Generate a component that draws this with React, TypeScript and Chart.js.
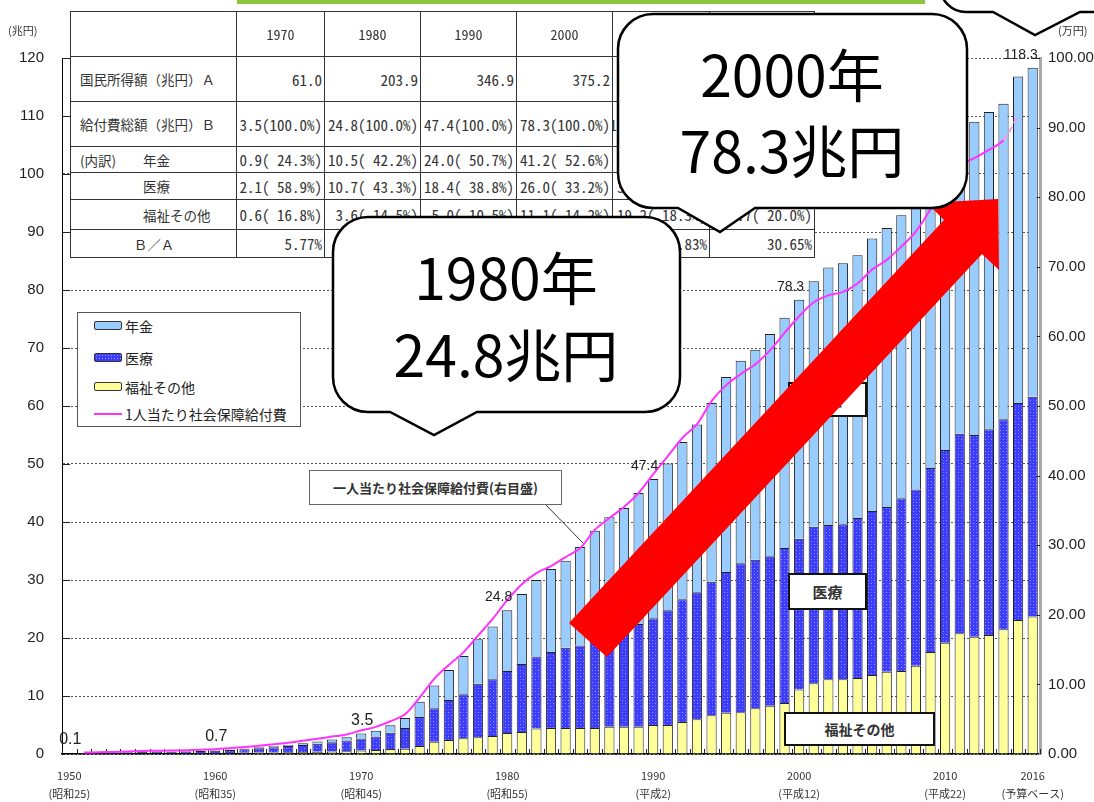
import { useEffect, useRef } from 'react';
import { Chart, registerables } from 'chart.js';

Chart.register(...registerables);

// Fiscal years shown on the category axis
const years = [
  1950, 1951, 1952, 1953, 1954, 1955, 1956, 1957, 1958, 1959,
  1960, 1961, 1962, 1963, 1964, 1965, 1966, 1967, 1968, 1969,
  1970, 1971, 1972, 1973, 1974, 1975, 1976, 1977, 1978, 1979,
  1980, 1981, 1982, 1983, 1984, 1985, 1986, 1987, 1988, 1989,
  1990, 1991, 1992, 1993, 1994, 1995, 1996, 1997, 1998, 1999,
  2000, 2001, 2002, 2003, 2004, 2005, 2006, 2007, 2008, 2009,
  2010, 2011, 2012, 2013, 2014, 2015, 2016,
];

// 年金 (兆円)
const pension = [
  0.00, 0.00, 0.01, 0.02, 0.03, 0.04, 0.05, 0.05, 0.06, 0.07,
  0.08, 0.10, 0.12, 0.15, 0.19, 0.24, 0.30, 0.37, 0.45, 0.55,
  0.86, 1.03, 1.27, 1.7, 2.6, 3.9, 5.2, 6.6, 7.7, 9.1,
  10.5, 12.1, 13.2, 14.3, 15.0, 17.0, 18.9, 20.4, 21.1, 22.6,
  24.0, 25.3, 27.1, 28.9, 30.8, 33.6, 34.9, 36.2, 38.3, 39.7,
  41.2, 42.3, 44.4, 45.0, 45.3, 47.0, 48.1, 48.8, 50.1, 50.5,
  52.8, 53.0, 54.0, 54.7, 54.4, 56.3, 56.7,
];

// 医療 (兆円)
const medical = [
  0.06, 0.09, 0.13, 0.16, 0.19, 0.23, 0.24, 0.26, 0.30, 0.34,
  0.40, 0.50, 0.63, 0.77, 0.92, 1.07, 1.24, 1.41, 1.63, 1.88,
  2.07, 2.33, 2.79, 3.6, 5.0, 5.8, 6.9, 7.6, 9.2, 9.8,
  10.7, 11.7, 12.4, 13.1, 13.8, 14.2, 15.1, 15.7, 16.6, 17.7,
  18.4, 19.8, 21.2, 21.9, 23.0, 24.3, 25.7, 25.6, 25.8, 26.7,
  26.0, 27.0, 26.6, 26.7, 27.6, 28.3, 28.4, 29.8, 30.4, 31.7,
  33.2, 34.4, 34.8, 35.5, 36.2, 37.4, 37.9,
];

// 福祉その他 (兆円)
const welfare = [
  0.07, 0.07, 0.08, 0.09, 0.10, 0.12, 0.12, 0.13, 0.14, 0.16,
  0.18, 0.19, 0.21, 0.24, 0.26, 0.29, 0.33, 0.37, 0.41, 0.46,
  0.59, 0.67, 0.88, 0.9, 1.4, 2.1, 2.4, 2.7, 2.9, 3.1,
  3.6, 3.8, 4.4, 4.5, 4.5, 4.5, 4.5, 4.7, 4.7, 4.7,
  5.0, 5.0, 5.5, 6.0, 6.7, 7.1, 7.2, 7.9, 8.3, 8.8,
  11.1, 12.2, 12.9, 12.9, 13.1, 13.6, 14.2, 14.3, 15.2, 17.6,
  19.2, 20.8, 20.2, 20.5, 21.5, 23.1, 23.7,
];

// 1人当たり社会保障給付費 (万円, right axis)
const perCapita = [
  null, 0.2, 0.25, 0.3, 0.36, 0.43, 0.46, 0.49, 0.55, 0.62,
  0.70, 0.84, 1.0, 1.2, 1.4, 1.6, 1.9, 2.2, 2.5, 2.8,
  3.4, 3.9, 4.7, 5.7, 8.1, 10.8, 12.8, 14.6, 17.0, 19.4,
  22.1, 24.4, 26.0, 27.0, 28.3, 29.6, 32.2, 33.9, 35.5, 37.5,
  40.2, 42.8, 45.4, 47.4, 50.7, 53.0, 54.6, 56.0, 58.0, 60.5,
  62.9, 64.9, 65.9, 66.4, 67.6, 69.6, 71.0, 72.9, 75.1, 78.3,
  82.3, 84.6, 85.6, 86.8, 88.2, 91.8, null,
];

// Years labelled on the x axis, with their era names
const axisYears = [1950, 1960, 1970, 1980, 1990, 2000, 2010, 2016];
const eraNames = ['(昭和25)', '(昭和35)', '(昭和45)', '(昭和55)', '(平成2)', '(平成12)', '(平成22)', '(予算ベース)'];

// Years whose total is printed above the bar
const totalLabelYears = [1950, 1960, 1970, 1980, 1990, 2000, 2016];

// Summary table
const tableYears = ['1970', '1980', '1990', '2000', '2010', '2016'];
const nationalIncome = ['61.0', '203.9', '346.9', '375.2', '364.9', '386.0'];
const benefitTotal = ['3.5(100.0%)', '24.8(100.0%)', '47.4(100.0%)', '78.3(100.0%)', '105.2(100.0%)', '118.3(100.0%)'];
const pensionRow = ['0.9( 24.3%)', '10.5( 42.2%)', '24.0( 50.7%)', '41.2( 52.6%)', '52.8( 50.2%)', '56.7( 47.9%)'];
const medicalRow = ['2.1( 58.9%)', '10.7( 43.3%)', '18.4( 38.8%)', '26.0( 33.2%)', '33.2( 31.6%)', '37.9( 32.0%)'];
const welfareRow = ['0.6( 16.8%)', '3.6( 14.5%)', '5.0( 10.5%)', '11.1( 14.2%)', '19.2( 18.3%)', '23.7( 20.0%)'];
const ratioRow = ['5.77%', '12.16%', '13.66%', '20.87%', '28.83%', '30.65%'];

const JP = "'Noto Sans CJK JP', sans-serif";
const JP_MONO = "'Noto Sans Mono CJK JP', 'Noto Sans CJK JP', monospace";
const NARROW = "'Liberation Sans Narrow', 'Arial Narrow', 'Liberation Sans', sans-serif";

const totalAt = (i: number) => Math.round((pension[i] + medical[i] + welfare[i]) * 10) / 10;

const decorPlugin = {
  id: 'decor',
  beforeDatasetsDraw(chart: any) {
    const { ctx, chartArea, scales } = chart;
    const { x, y, y1 } = scales;
    ctx.save();
    ctx.strokeStyle = '#222';
    ctx.lineWidth = 1;
    ctx.beginPath();
    for (let v = 10; v <= 120; v += 10) {
      const py = Math.round(y.getPixelForValue(v)) + 0.5;
      ctx.moveTo(chartArea.left, py);
      ctx.lineTo(chartArea.left + 8, py);
    }
    for (let v = 10; v <= 100; v += 10) {
      const py = Math.round(y1.getPixelForValue(v)) + 0.5;
      ctx.moveTo(chartArea.right - 7, py);
      ctx.lineTo(chartArea.right, py);
    }
    const half = (x.getPixelForValue(1) - x.getPixelForValue(0)) / 2;
    for (let i = 0; i <= years.length; i++) {
      const px = Math.round(x.getPixelForValue(i) - half) + 0.5;
      ctx.moveTo(px, chartArea.bottom - 5);
      ctx.lineTo(px, chartArea.bottom);
    }
    ctx.stroke();
    ctx.restore();
  },
  afterDatasetsDraw(chart: any) {
    const { ctx, scales } = chart;
    const { x, y } = scales;
    ctx.save();
    ctx.fillStyle = '#222';
    ctx.textBaseline = 'alphabetic';
    totalLabelYears.forEach((yr) => {
      const i = years.indexOf(yr);
      const total = totalAt(i);
      const px = x.getPixelForValue(i);
      const py = y.getPixelForValue(total);
      if (total < 10) {
        ctx.font = `16px ${NARROW}`;
        ctx.textAlign = 'center';
        ctx.fillText(total.toFixed(1), px + 1, py - 9);
      } else {
        ctx.font = `14px ${NARROW}`;
        ctx.textAlign = 'right';
        ctx.fillText(total.toFixed(1), px + 5, py - 9);
      }
    });
    ctx.restore();
  },
};

const bubblePath = (x0: number, y0: number, x1: number, y1: number, r: number, pl: number, tx: number, ty: number, pr: number) =>
  `M${x0 + r} ${y0} H${x1 - r} A${r} ${r} 0 0 1 ${x1} ${y0 + r} V${y1 - r} A${r} ${r} 0 0 1 ${x1 - r} ${y1} ` +
  `H${pr} L${tx} ${ty} L${pl} ${y1} H${x0 + r} A${r} ${r} 0 0 1 ${x0} ${y1 - r} V${y0 + r} A${r} ${r} 0 0 1 ${x0 + r} ${y0} Z`;

const colX = [71, 237, 325, 421, 517, 613, 710, 815];
const rowY = [12, 57, 102, 147, 173, 200, 230, 258];

function SummaryTable() {
  const rows: { label: any; cells: string[]; header?: boolean }[] = [
    { label: '', cells: tableYears, header: true },
    { label: <span style={{ paddingLeft: 9 }}>国民所得額（兆円）Ａ</span>, cells: nationalIncome },
    { label: <span style={{ paddingLeft: 9 }}>給付費総額（兆円）Ｂ</span>, cells: benefitTotal },
    { label: <><span style={{ paddingLeft: 9 }}>(内訳)</span><span style={{ position: 'absolute', left: 72 }}>年金</span></>, cells: pensionRow },
    { label: <span style={{ position: 'absolute', left: 72 }}>医療</span>, cells: medicalRow },
    { label: <span style={{ position: 'absolute', left: 72 }}>福祉その他</span>, cells: welfareRow },
    { label: <span style={{ position: 'absolute', left: 0, width: 166, textAlign: 'center' }}>Ｂ／Ａ</span>, cells: ratioRow },
  ];
  const cellBase: any = {
    position: 'absolute',
    boxSizing: 'border-box',
    border: '1px solid #333',
    marginLeft: -1,
    marginTop: -1,
    display: 'flex',
    alignItems: 'center',
    background: '#fff',
    color: '#333',
    whiteSpace: 'pre',
    overflow: 'hidden',
  };
  const out: any[] = [];
  rows.forEach((row, r) => {
    const top = rowY[r];
    const h = rowY[r + 1] - top + 1;
    out.push(
      <div key={`l${r}`} style={{ ...cellBase, left: colX[0], top, width: colX[1] - colX[0] + 1, height: h, fontFamily: JP, fontSize: 13.5 }}>
        {row.label}
      </div>,
    );
    row.cells.forEach((c, k) => {
      out.push(
        <div
          key={`c${r}-${k}`}
          style={{
            ...cellBase,
            left: colX[k + 1],
            top,
            width: colX[k + 2] - colX[k + 1] + 1,
            height: h,
            justifyContent: row.header ? 'center' : 'flex-end',
            paddingRight: row.header ? 0 : 2,
            fontFamily: JP_MONO,
            fontSize: row.header ? 14 : 15,
            letterSpacing: 0,
          }}
        >
          {c}
        </div>,
      );
    });
  });
  return <>{out}</>;
}

function Legend() {
  const item = (top: number, swatch: any, text: string) => (
    <div style={{ position: 'absolute', left: 0, top: top - 10, height: 20, width: 224 }}>
      <div style={{ position: 'absolute', left: 16, top: 5, ...swatch }} />
      <div style={{ position: 'absolute', left: 47, top: 0, lineHeight: '20px', fontSize: 14, fontFamily: JP, color: '#222', whiteSpace: 'nowrap' }}>{text}</div>
    </div>
  );
  const box = { width: 28, height: 9, boxSizing: 'border-box', border: '1.5px solid #333', borderRadius: 2 };
  return (
    <div style={{ position: 'absolute', left: 77, top: 312, width: 224, height: 115, boxSizing: 'border-box', border: '1px solid #555', background: '#fff' }}>
      {item(13, { ...box, background: '#99CCFF' }, '年金')}
      {item(45, { ...box, backgroundColor: '#3C3CFF', backgroundImage: 'radial-gradient(#9C9CFF 0.7px, transparent 0.9px)', backgroundSize: '3px 3px' }, '医療')}
      {item(74, { ...box, background: '#FFFF99' }, '福祉その他')}
      {item(101, { width: 28, height: 2, top: 9, background: '#FF33FF' }, '1人当たり社会保障給付費')}
    </div>
  );
}

function TagBox({ left, top, width, height, text, size, border }: any) {
  return (
    <div
      style={{
        position: 'absolute', left, top, width, height, boxSizing: 'border-box', border, background: '#fff',
        display: 'flex', alignItems: 'center', justifyContent: 'center', fontFamily: JP, fontWeight: 700,
        fontSize: size, color: '#333', whiteSpace: 'nowrap',
      }}
    >
      {text}
    </div>
  );
}

export default function App() {
  const ref = useRef<HTMLCanvasElement>(null);

  useEffect(() => {
    const canvas = ref.current!;
    const pc = document.createElement('canvas');
    pc.width = 6;
    pc.height = 6;
    const g = pc.getContext('2d')!;
    g.fillStyle = '#3C3CFF';
    g.fillRect(0, 0, 6, 6);
    g.fillStyle = '#9C9CFF';
    g.fillRect(1, 1, 1, 1);
    g.fillRect(4, 4, 1, 1);
    g.fillStyle = '#6A6AFF';
    g.fillRect(4, 1, 1, 1);
    g.fillRect(1, 4, 1, 1);
    const medicalFill = canvas.getContext('2d')!.createPattern(pc, 'repeat')!;

    const barCommon = { borderColor: '#222', borderWidth: 1, barPercentage: 0.7, categoryPercentage: 1, order: 1, yAxisID: 'y' };

    const chart = new Chart(canvas, {
      type: 'bar',
      data: {
        labels: years.map(String),
        datasets: [
          {
            type: 'line',
            label: '1人当たり社会保障給付費',
            data: perCapita,
            yAxisID: 'y1',
            borderColor: '#FF33FF',
            borderWidth: 2,
            pointRadius: 0,
            tension: 0.35,
            order: 0,
            segment: {
              borderColor: (c: any) => (c.p0DataIndex === 64 ? '#FF99DD' : undefined),
              borderDash: (c: any) => (c.p0DataIndex === 64 ? [6, 4] : undefined),
            },
          } as any,
          { label: '福祉その他', data: welfare, backgroundColor: '#FFFF99', ...barCommon },
          { label: '医療', data: medical, backgroundColor: medicalFill, ...barCommon },
          { label: '年金', data: pension, backgroundColor: '#99CCFF', ...barCommon },
        ],
      },
      options: {
        responsive: false,
        animation: false,
        events: [],
        layout: { padding: { top: 58, left: 0, right: 0, bottom: 0 } },
        plugins: { legend: { display: false }, tooltip: { enabled: false } },
        scales: {
          x: {
            stacked: true,
            grid: { display: false, drawTicks: false },
            border: { display: true, color: '#000', width: 1.5 },
            ticks: {
              autoSkip: false,
              maxRotation: 0,
              minRotation: 0,
              padding: 13,
              color: '#333',
              font: { family: JP, size: 11, lineHeight: 1.6 },
              callback: (_v: any, i: number) => {
                const k = axisYears.indexOf(years[i]);
                return k >= 0 ? [String(years[i]), eraNames[k]] : '';
              },
            },
            afterFit: (s: any) => { s.height = 48; },
          },
          y: {
            stacked: true,
            position: 'left',
            min: 0,
            max: 120,
            ticks: { stepSize: 10, padding: 18, color: '#222', font: { family: NARROW, size: 15 } },
            grid: { color: '#555', lineWidth: 1, drawTicks: false },
            border: { display: true, color: '#000', width: 1, dash: [2, 2] },
            afterFit: (s: any) => { s.width = 62; },
          },
          y1: {
            position: 'right',
            min: 0,
            max: 100,
            ticks: { stepSize: 10, padding: 8, color: '#222', font: { family: NARROW, size: 15 }, callback: (v: any) => Number(v).toFixed(2) },
            grid: { drawOnChartArea: false, drawTicks: false },
            border: { display: true, color: '#A8A8A8', width: 3 },
            afterFit: (s: any) => { s.width = 54; },
          },
        },
      } as any,
      plugins: [decorPlugin],
    });
    return () => chart.destroy();
  }, []);

  return (
    <div style={{ position: 'absolute', left: 0, top: 0, width: 1094, height: 802, overflow: 'hidden', background: '#fff' }}>
      <canvas ref={ref} width={1094} height={802} style={{ position: 'absolute', left: 0, top: 0 }} />
      <div style={{ position: 'absolute', left: 237, top: 0, width: 688, height: 4, background: '#8CC63F' }} />
      <div style={{ position: 'absolute', left: 8, top: 22, fontFamily: JP, fontSize: 11, color: '#333' }}>(兆円)</div>
      <div style={{ position: 'absolute', left: 1058, top: 22, fontFamily: JP, fontSize: 11, color: '#333' }}>(万円)</div>
      <SummaryTable />
      <Legend />
      <TagBox left={309} top={470} width={253} height={35} text="一人当たり社会保障給付費(右目盛)" size={13} border="1.5px solid #666" />
      <TagBox left={788} top={382} width={79} height={35} text="年金" size={15} border="2px solid #111" />
      <TagBox left={788} top={573} width={79} height={37} text="医療" size={15} border="2px solid #111" />
      <TagBox left={784} top={712} width={151} height={34} text="福祉その他" size={14} border="2px solid #111" />
      <svg width={1094} height={802} style={{ position: 'absolute', left: 0, top: 0 }}>
        <line x1={546} y1={505} x2={583} y2={543} stroke="#333" strokeWidth={1} />
        <polygon points="569,623 944,220 927,203 998,199 999,270 982,254 607,657" fill="#FF0000" />
        <path d={bubblePath(333, 217, 680, 412, 35, 390, 434, 435, 477)} fill="#fff" stroke="#000" strokeWidth={2.5} />
        <text x={506} y={300} fontSize={57} textAnchor="middle" fontFamily={JP} fill="#000">1980年</text>
        <text x={506} y={377} fontSize={57} textAnchor="middle" fontFamily={JP} fill="#000">24.8兆円</text>
        <path d={bubblePath(618, 14, 967, 208, 35, 678, 720, 232, 755)} fill="#fff" stroke="#000" strokeWidth={2.5} />
        <text x={792} y={97} fontSize={57} textAnchor="middle" fontFamily={JP} fill="#000">2000年</text>
        <text x={792} y={173} fontSize={57} textAnchor="middle" fontFamily={JP} fill="#000">78.3兆円</text>
        <path d={bubblePath(940, -120, 1200, 12, 26, 993, 1035, 35, 1080)} fill="#fff" stroke="#000" strokeWidth={2.5} />
      </svg>
    </div>
  );
}
